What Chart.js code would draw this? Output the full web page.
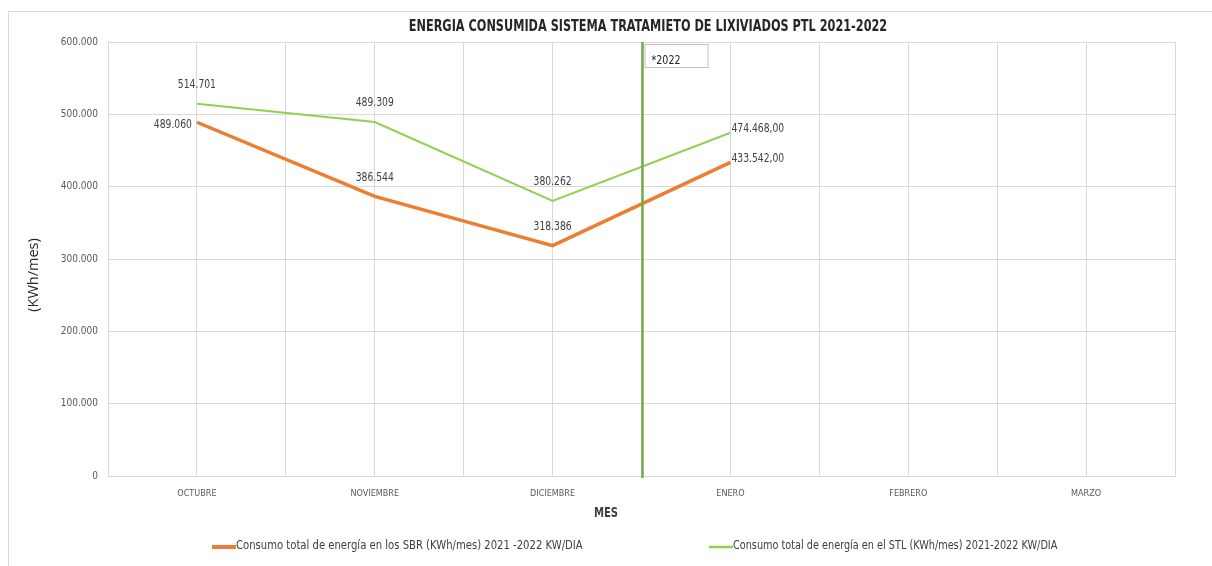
<!DOCTYPE html>
<html>
<head>
<meta charset="utf-8">
<script src="https://cdn.jsdelivr.net/npm/chart.js@4"></script>
<style>
  body { margin: 0; background: #fff; }
  #wrap { position: relative; width: 1212px; height: 566px; }
</style>
</head>
<body>
<div id="wrap"><canvas id="grafico" width="1212" height="566"></canvas></div>
<script>
// Datos
const meses = ['OCTUBRE', 'NOVIEMBRE', 'DICIEMBRE', 'ENERO', 'FEBRERO', 'MARZO'];
const consumoSBR = [489060, 386544, 318386, 433542, null, null];
const consumoSTL = [514701, 489309, 380262, 474468, null, null];
const etiquetasSBR = ['489.060', '386.544', '318.386', '433.542,00'];
const etiquetasSTL = ['514.701', '489.309', '380.262', '474.468,00'];
const ticksY = [0, 100000, 200000, 300000, 400000, 500000, 600000];
const nombreSBR = 'Consumo total de energía en los SBR (KWh/mes) 2021 -2022 KW/DIA';
const nombreSTL = 'Consumo total de energía en el STL (KWh/mes) 2021-2022 KW/DIA';
const titulo = 'ENERGIA CONSUMIDA SISTEMA TRATAMIETO DE LIXIVIADOS PTL 2021-2022';
const marcaAnio = '*2022';

const FUENTE = '"Liberation Sans Narrow", "DejaVu Sans Condensed", Arial, sans-serif';
const NARANJA = '#ED7D31';
const VERDE = '#92D050';
const VERDE_OSC = '#70AD47';

// formato con punto de miles
function formatoMiles(v) {
    return String(Math.round(v)).replace(/\B(?=(\d{3})+(?!\d))/g, '.');
}

// texto comprimido horizontalmente (la fuente original es estrecha)
function textoEstrecho(ctx, t, x, y, factor) {
    ctx.fillText(t, x, y, ctx.measureText(t).width * factor);
}

// donde va cada etiqueta respecto al punto
const posSBR = ['left', 'above', 'above', 'right'];
const posSTL = ['above', 'above', 'above', 'right'];

const dibujosExtra = {
    id: 'dibujosExtra',
    beforeDraw(chart) {
        const ctx = chart.ctx;
        ctx.save();
        // marco exterior
        ctx.strokeStyle = '#d9d9d9';
        ctx.lineWidth = 1;
        ctx.beginPath();
        ctx.moveTo(1212, 11.5);
        ctx.lineTo(8.5, 11.5);
        ctx.lineTo(8.5, 566);
        ctx.stroke();
        ctx.restore();
    },
    afterDraw(chart) {
        const ctx = chart.ctx;
        const x = chart.scales.x;
        const y = chart.scales.y;
        const area = chart.chartArea;
        ctx.save();

        // titulo
        ctx.fillStyle = '#262626';
        ctx.font = 'bold 15.5px ' + FUENTE;
        ctx.textAlign = 'center';
        ctx.textBaseline = 'middle';
        textoEstrecho(ctx, titulo, 648, 27, 0.81);

        // linea divisoria del año
        const xDiv = Math.round(x.getPixelForValue(meses.indexOf('ENERO') - 0.5)) + 0.5;
        ctx.strokeStyle = VERDE_OSC;
        ctx.lineWidth = 2.5;
        ctx.beginPath();
        ctx.moveTo(xDiv, area.top);
        ctx.lineTo(xDiv, area.bottom + 2);
        ctx.stroke();

        // cuadro *2022
        ctx.fillStyle = '#fff';
        ctx.fillRect(xDiv + 2, 44, 63, 23);
        ctx.strokeStyle = '#bfbfbf';
        ctx.lineWidth = 1;
        ctx.strokeRect(xDiv + 2.5, 44.5, 63, 23);
        ctx.fillStyle = '#262626';
        ctx.font = '12.5px ' + FUENTE;
        ctx.textAlign = 'left';
        ctx.textBaseline = 'middle';
        textoEstrecho(ctx, marcaAnio, xDiv + 9, 61, 0.85);

        // etiquetas de datos
        function etiquetas(valores, textos, posiciones) {
            ctx.font = '12.5px ' + FUENTE;
            ctx.fillStyle = '#404040';
            ctx.textBaseline = 'middle';
            textos.forEach((t, i) => {
                const px = x.getPixelForValue(i);
                const py = y.getPixelForValue(valores[i]);
                if (posiciones[i] === 'above') {
                    ctx.textAlign = 'center';
                    textoEstrecho(ctx, t, px, py - 19, 0.82);
                } else if (posiciones[i] === 'left') {
                    ctx.textAlign = 'right';
                    textoEstrecho(ctx, t, px - 5, py + 3, 0.82);
                } else {
                    ctx.textAlign = 'left';
                    textoEstrecho(ctx, t, px + 1, py - 4, 0.82);
                }
            });
        }
        etiquetas(consumoSBR, etiquetasSBR, posSBR);
        etiquetas(consumoSTL, etiquetasSTL, posSTL);

        // titulo eje x
        ctx.fillStyle = '#404040';
        ctx.font = 'bold 14px ' + FUENTE;
        ctx.textAlign = 'center';
        textoEstrecho(ctx, 'MES', 606, 513, 0.8);

        // titulo eje y
        ctx.save();
        ctx.translate(34, 275);
        ctx.rotate(-Math.PI / 2);
        ctx.font = '14.5px "Open Sans", "Noto Sans", sans-serif';
        ctx.fillStyle = '#262626';
        ctx.fillText('(KWh/mes)', 0, 0);
        ctx.restore();

        // leyenda
        const leyenda = [
            { texto: nombreSBR, color: NARANJA, ancho: 4, x: 212, f: 0.86 },
            { texto: nombreSTL, color: VERDE, ancho: 2.5, x: 709, f: 0.83 }
        ];
        ctx.font = '13px ' + FUENTE;
        ctx.textAlign = 'left';
        leyenda.forEach(l => {
            ctx.strokeStyle = l.color;
            ctx.lineWidth = l.ancho;
            ctx.beginPath();
            ctx.moveTo(l.x, 547);
            ctx.lineTo(l.x + 24, 547);
            ctx.stroke();
            ctx.fillStyle = '#404040';
            textoEstrecho(ctx, l.texto, l.x + 24, 546, l.f);
        });

        ctx.restore();
    }
};

const ctx = document.getElementById('grafico').getContext('2d');
new Chart(ctx, {
    type: 'line',
    data: {
        datasets: [
            {
                label: nombreSBR,
                data: consumoSBR.map((v, i) => ({ x: i, y: v })),
                borderColor: NARANJA,
                borderWidth: 3.5,
                pointRadius: 0,
                tension: 0
            },
            {
                label: nombreSTL,
                data: consumoSTL.map((v, i) => ({ x: i, y: v })),
                borderColor: VERDE,
                borderWidth: 2,
                pointRadius: 0,
                tension: 0
            }
        ]
    },
    options: {
        responsive: false,
        animation: false,
        layout: { padding: { top: 42, right: 37, left: 0, bottom: 0 } },
        plugins: {
            legend: { display: false },
            title: { display: false },
            tooltip: { enabled: false }
        },
        scales: {
            x: {
                type: 'linear',
                min: -0.5,
                max: meses.length - 0.5,
                afterFit: (s) => { s.height = 90; },
                afterBuildTicks: (s) => {
                    const t = [];
                    for (let v = -0.5; v <= meses.length - 0.5; v += 0.5) t.push({ value: v });
                    s.ticks = t;
                },
                grid: { color: '#d9d9d9', drawTicks: false },
                border: { color: '#d9d9d9' },
                ticks: {
                    autoSkip: false,
                    maxRotation: 0,
                    padding: 12,
                    color: '#595959',
                    font: { family: FUENTE, size: 9 },
                    callback: (v) => Number.isInteger(v) ? meses[v] : ''
                }
            },
            y: {
                min: 0,
                max: 600000,
                afterFit: (s) => { s.width = 108; },
                afterBuildTicks: (s) => { s.ticks = ticksY.map(v => ({ value: v })); },
                grid: { color: '#d9d9d9', drawTicks: false },
                border: { display: false },
                ticks: {
                    padding: 10,
                    color: '#595959',
                    font: { family: FUENTE, size: 10 },
                    callback: (v) => formatoMiles(v)
                }
            }
        }
    },
    plugins: [dibujosExtra]
});
</script>
</body>
</html>
